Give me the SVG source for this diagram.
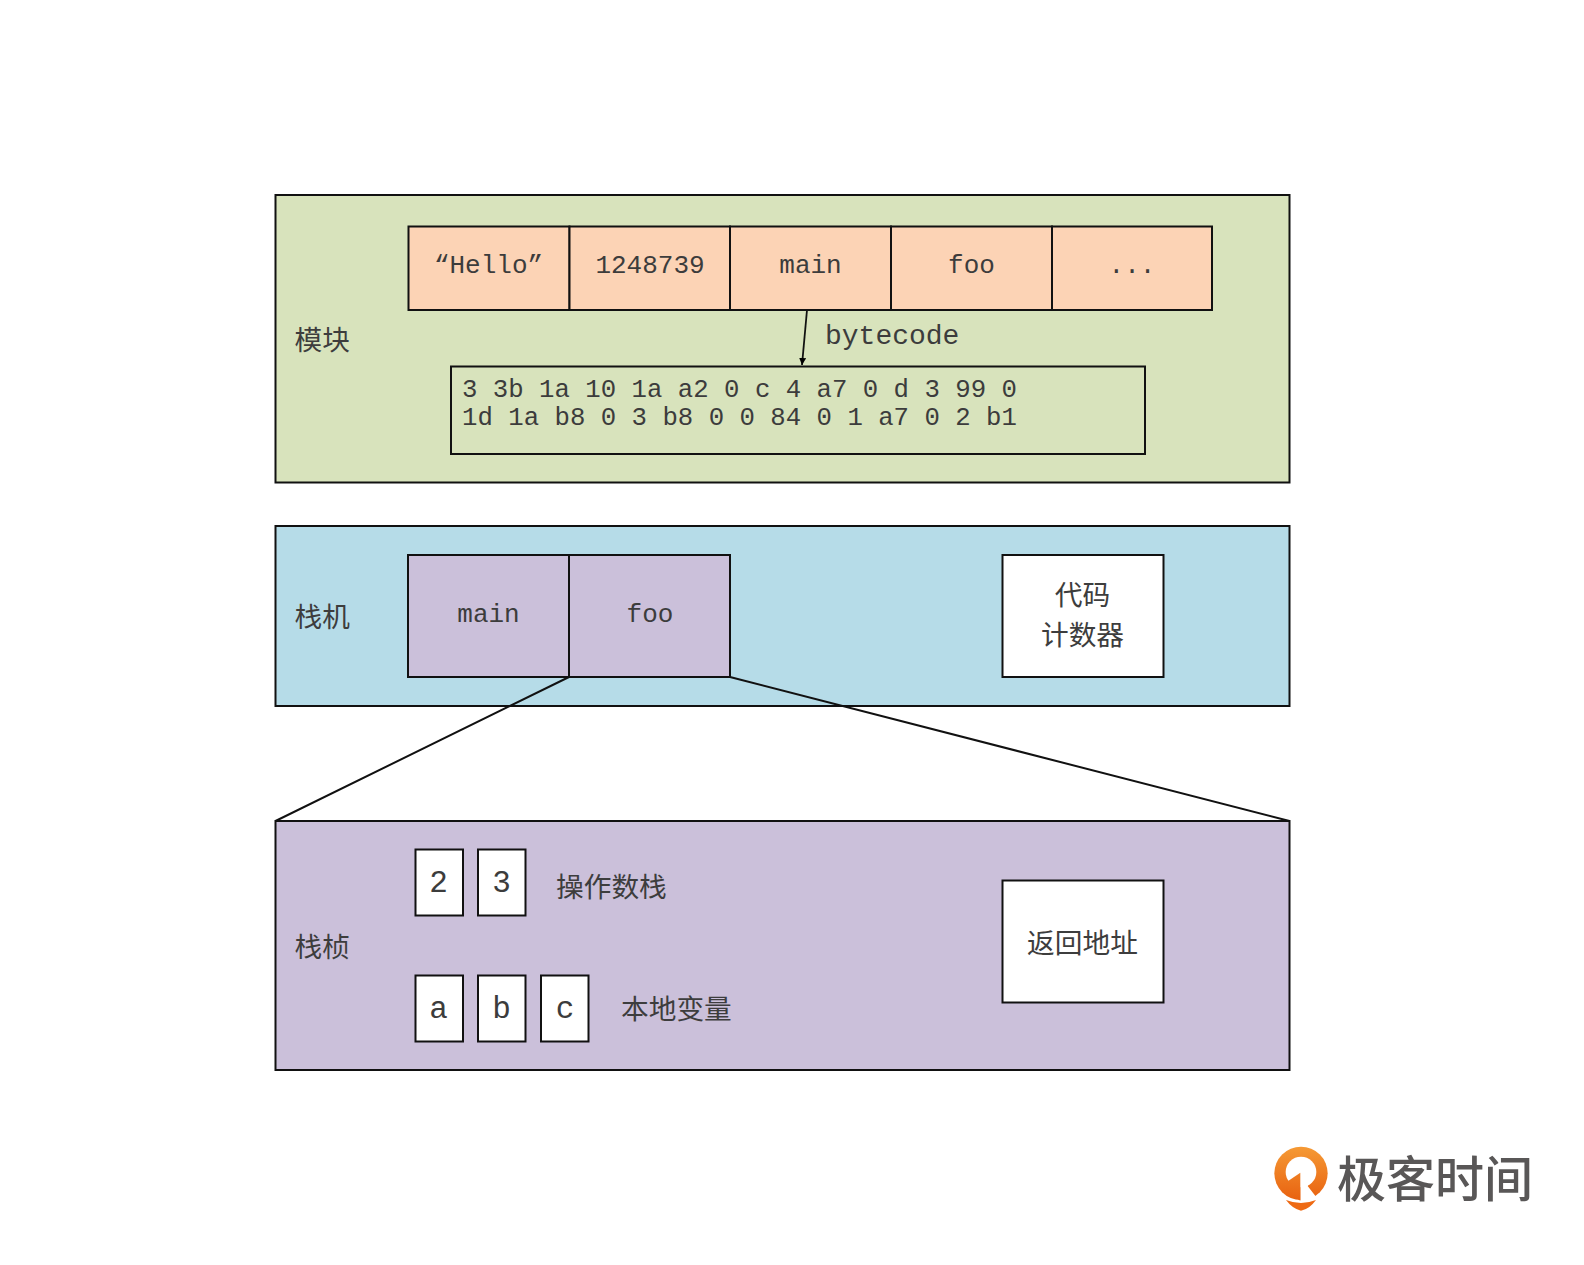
<svg xmlns="http://www.w3.org/2000/svg" width="1584" height="1265" viewBox="0 0 1584 1265">
<style>
.b{stroke:#111;stroke-width:2}
.m{font-family:"Liberation Mono","DejaVu Sans Mono",monospace;font-size:26px;fill:#3c3c3c;text-anchor:middle}
.s{font-family:"Liberation Mono","DejaVu Sans Mono",monospace;font-size:31px;fill:#3c3c3c;text-anchor:middle}
.c{font-family:"Liberation Mono","DejaVu Sans Mono",monospace;font-size:25.7px;fill:#3c3c3c;white-space:pre}
.z{font-family:"Liberation Sans","Noto Sans CJK SC",sans-serif;font-size:27.7px;fill:#3d3d3d}
.g{fill:#d8e3bc}.o{fill:#fcd3b5}.l{fill:#b6dce8}.p{fill:#cbc0da}.w{fill:#fff}
</style>
<defs>
<marker id="arr" markerWidth="8" markerHeight="8" refX="7" refY="3.500" orient="auto" markerUnits="userSpaceOnUse"><path d="M0 0L7 3.500L0 7z" fill="#000"/></marker>
<linearGradient id="lg" gradientUnits="userSpaceOnUse" x1="0" y1="20" x2="0" y2="185"><stop offset="0" stop-color="#f59a35"/><stop offset="1" stop-color="#e8600f"/></linearGradient>
</defs>
<rect width="1584" height="1265" fill="#fff"/>
<g id="module">
<rect class="b g" x="275.500" y="195" width="1014" height="287.500"/>
<text class="z" x="294.500" y="349.500">模块</text>
</g>
<g id="const-hello"><rect class="b o" x="408.500" y="226.500" width="161" height="83.500"/><text class="m" x="488.500" y="273">“Hello”</text></g>
<g id="const-num"><rect class="b o" x="569.500" y="226.500" width="160.500" height="83.500"/><text class="m" x="650" y="273">1248739</text></g>
<g id="const-main"><rect class="b o" x="730" y="226.500" width="161" height="83.500"/><text class="m" x="810.500" y="273">main</text></g>
<g id="const-foo"><rect class="b o" x="891" y="226.500" width="161" height="83.500"/><text class="m" x="971.500" y="273">foo</text></g>
<g id="const-more"><rect class="b o" x="1052" y="226.500" width="160" height="83.500"/><text class="m" x="1132" y="273">...</text></g>
<g id="bytecode">
<rect class="b g" x="451" y="366.500" width="694" height="87.500"/>
<text class="c" x="462" y="397">3 3b 1a 10 1a a2 0 c 4 a7 0 d 3 99 0</text>
<text class="c" x="462" y="425">1d 1a b8 0 3 b8 0 0 84 0 1 a7 0 2 b1</text>
</g>
<g id="stackmachine">
<rect class="b l" x="275.500" y="526" width="1014" height="180"/>
<text class="z" x="294.500" y="626.500">栈机</text>
</g>
<g id="frame-main"><rect class="b p" x="408" y="555" width="161" height="122"/><text class="m" x="488.500" y="622">main</text></g>
<g id="frame-foo"><rect class="b p" x="569" y="555" width="161" height="122"/><text class="m" x="650" y="622">foo</text></g>
<g id="pc">
<rect class="b w" x="1002.500" y="555" width="161" height="122"/>
<text class="z" x="1082.500" y="605" text-anchor="middle">代码</text>
<text class="z" x="1082.500" y="645" text-anchor="middle">计数器</text>
</g>
<g id="frame">
<rect class="b p" x="275.500" y="821" width="1014" height="249"/>
<text class="z" x="294.500" y="956.500">栈桢</text>
<text class="z" x="556" y="896.500">操作数栈</text>
<text class="z" x="621" y="1019">本地变量</text>
</g>
<g id="op-2"><rect class="b w" x="415.500" y="849.500" width="47.500" height="66"/><text class="s" x="438.500" y="892">2</text></g>
<g id="op-3"><rect class="b w" x="478" y="849.500" width="47.500" height="66"/><text class="s" x="501.500" y="892">3</text></g>
<g id="var-a"><rect class="b w" x="415.500" y="975.500" width="47.500" height="66"/><text class="s" x="438.500" y="1018">a</text></g>
<g id="var-b"><rect class="b w" x="478" y="975.500" width="47.500" height="66"/><text class="s" x="501.500" y="1018">b</text></g>
<g id="var-c"><rect class="b w" x="541" y="975.500" width="47.500" height="66"/><text class="s" x="565" y="1018">c</text></g>
<g id="ret"><rect class="b w" x="1002.500" y="880.500" width="161" height="122"/><text class="z" x="1082.500" y="952.500" text-anchor="middle">返回地址</text></g>
<g id="connectors" fill="none" stroke="#111">
<path stroke-width="1.800" d="M807 310L802 365" marker-end="url(#arr)"/>
<path stroke-width="2" d="M569 677L275.500 821M730 677L1289.500 821"/>
</g>
<text x="825" y="343.500" font-family="Liberation Mono,monospace" font-size="28" fill="#3c3c3c">bytecode</text>
<g id="logo">
<g transform="translate(1265 1140) scale(.3333)">
<circle cx="108" cy="100" r="80" fill="url(#lg)"/>
<circle cx="108" cy="96" r="46" fill="#fff"/>
<path fill="#fff" d="M106 96L150 96L128 138L153 170L136 190L106 190z"/>
<path fill="url(#lg)" d="M66 125L106 98L106 182L80 165z"/>
<path fill="#ee6a14" d="M63 180Q108 198 153 180Q133 208 108 212Q82 206 63 180z"/>
</g>
<text x="1337" y="1197" font-family="Noto Sans CJK SC,sans-serif" font-weight="500" font-size="49" fill="#595757">极客时间</text>
</g>
</svg>
